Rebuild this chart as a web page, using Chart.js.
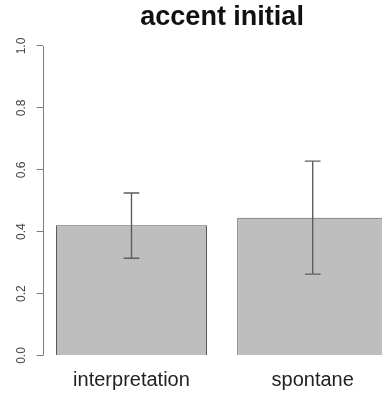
<!DOCTYPE html>
<html>
<head>
<meta charset="utf-8">
<script src="https://cdn.jsdelivr.net/npm/chart.js@4/dist/chart.umd.min.js"></script>
<style>
  html, body { margin: 0; padding: 0; background: #fff; overflow: hidden; }
  #wrap { width: 402px; height: 394px; }
</style>
</head>
<body>
<div id="wrap"><canvas id="c" width="402" height="394"></canvas></div>
<script>
// Proportion of "accent initial" responses per task
const categories = ['interpretation', 'spontane'];
const means      = [0.421, 0.445];
const ciLower    = [0.314, 0.263];
const ciUpper    = [0.525, 0.628];
const yTickLabels = ['0.0', '0.2', '0.4', '0.6', '0.8', '1.0'];

// barplot-style layout: bar width 1, space 0.2, 4% padding on both axes
const BAR_W = 1, SPACE = 0.2;
const centers = categories.map((_, i) => SPACE + BAR_W / 2 + i * (BAR_W + SPACE));
const xLo = SPACE, xHi = centers[centers.length - 1] + BAR_W / 2;
const xPad = (xHi - xLo) * 0.04;
const yTicks = yTickLabels.map(Number);
const yPad = (yTicks[yTicks.length - 1] - yTicks[0]) * 0.04;

const FONT = "'Liberation Sans', Arial, sans-serif";

const errorBars = {
  id: 'errorBars',
  afterDatasetsDraw(chart) {
    const { ctx, scales: { x, y } } = chart;
    ctx.save();
    // y axis line spanning the tick range
    ctx.strokeStyle = '#7a7a7a';
    ctx.lineWidth = 1;
    const ax = Math.round(chart.chartArea.left) + 0.5;
    ctx.beginPath();
    ctx.moveTo(ax, y.getPixelForValue(yTicks[0]));
    ctx.lineTo(ax, y.getPixelForValue(yTicks[yTicks.length - 1]));
    ctx.stroke();
    // interval whiskers with flat caps
    const meta = chart.getDatasetMeta(0);
    ctx.strokeStyle = '#5e5e5e';
    ctx.lineWidth = 1.4;
    meta.data.forEach((bar, i) => {
      const cx = x.getPixelForValue(centers[i]);
      const half = bar.width * 0.052;
      const top = y.getPixelForValue(ciUpper[i]);
      const bot = y.getPixelForValue(ciLower[i]);
      ctx.beginPath();
      ctx.moveTo(cx, top); ctx.lineTo(cx, bot);
      ctx.moveTo(cx - half, top); ctx.lineTo(cx + half, top);
      ctx.moveTo(cx - half, bot); ctx.lineTo(cx + half, bot);
      ctx.stroke();
    });
    ctx.restore();
  }
};

new Chart(document.getElementById('c'), {
  type: 'bar',
  data: {
    datasets: [{
      data: categories.map((_, i) => ({ x: centers[i], y: means[i] })),
      backgroundColor: '#bebebe',
      borderColor: '#5a5a5a',
      borderWidth: 1,
      categoryPercentage: 1,
      barPercentage: BAR_W / (BAR_W + SPACE)
    }]
  },
  options: {
    responsive: false,
    animation: false,
    devicePixelRatio: 1,
    layout: { padding: { left: 0, right: 0.5, top: 0, bottom: 0 } },
    plugins: {
      legend: { display: false },
      tooltip: { enabled: false },
      title: {
        display: true,
        fullSize: false,
        text: 'accent initial',
        color: '#111',
        font: { family: FONT, size: 27, weight: 'bold', lineHeight: 1.2 },
        padding: { top: 1.2, bottom: 0 }
      }
    },
    scales: {
      x: {
        type: 'linear',
        offset: false,
        min: xLo - xPad,
        max: xHi + xPad,
        grid: { display: false, offset: false },
        border: { display: false },
        afterBuildTicks: s => { s.ticks = centers.map(v => ({ value: v })); },
        afterFit: s => { s.height = 26.1; },
        ticks: {
          padding: -5,
          color: '#222',
          maxRotation: 0,
          autoSkip: false,
          font: { family: FONT, size: 20, lineHeight: 1 },
          callback: (v, i) => categories[i]
        }
      },
      y: {
        min: yTicks[0] - yPad,
        max: yTicks[yTicks.length - 1] + yPad,
        border: { display: false },
        grid: { drawOnChartArea: false, drawTicks: true, tickLength: 6, color: '#7a7a7a' },
        afterBuildTicks: s => { s.ticks = yTicks.map(v => ({ value: v })); },
        afterFit: s => { s.width = 42.7; },
        ticks: {
          minRotation: 90,
          maxRotation: 90,
          crossAlign: 'center',
          padding: 7,
          color: '#444',
          font: { family: FONT, size: 12 },
          callback: (v, i) => yTickLabels[i]
        }
      }
    }
  },
  plugins: [errorBars]
});
</script>
</body>
</html>
